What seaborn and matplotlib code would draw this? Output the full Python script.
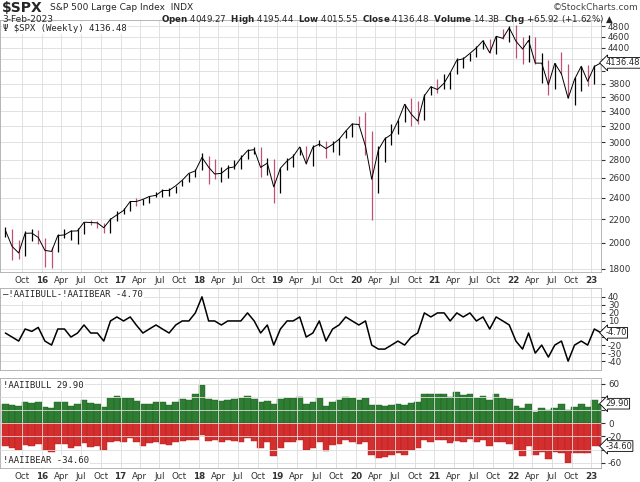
import numpy as np
import pandas as pd
import matplotlib
matplotlib.use("Agg")
import matplotlib.pyplot as plt
import matplotlib.dates as mdates
from matplotlib.ticker import FixedLocator, NullLocator, NullFormatter
import seaborn as sns

months = pd.date_range("2015-07-01", "2023-02-01", freq="MS") + pd.Timedelta(days=14)

spx_close = [2104, 1972, 1920, 2079, 2080, 2044,
    1940, 1932, 2060, 2065, 2097, 2099, 2174, 2171, 2168, 2126, 2199, 2239,
    2279, 2364, 2363, 2384, 2412, 2423, 2470, 2472, 2519, 2575, 2648, 2674,
    2824, 2714, 2641, 2648, 2705, 2718, 2816, 2902, 2914, 2712, 2760, 2507,
    2704, 2784, 2834, 2946, 2752, 2942, 2980, 2926, 2977, 3038, 3141, 3231,
    3226, 2954, 2585, 2912, 3044, 3100, 3271, 3500, 3363, 3270, 3622, 3756,
    3714, 3811, 3973, 4181, 4204, 4298, 4395, 4523, 4308, 4605, 4567, 4766,
    4516, 4374, 4530, 4132, 4132, 3785, 4130, 3955, 3586, 3872, 4080, 3840,
    4077, 4136]
spx_low = [2044, 1867, 1872, 1893, 2019, 1993,
    1812, 1810, 1931, 2039, 2025, 1992, 2075, 2147, 2120, 2083, 2084, 2187,
    2245, 2271, 2322, 2329, 2353, 2405, 2407, 2418, 2446, 2520, 2557, 2605,
    2683, 2533, 2585, 2553, 2594, 2691, 2699, 2803, 2868, 2604, 2631, 2346,
    2444, 2682, 2722, 2848, 2750, 2729, 2952, 2822, 2892, 2856, 3050, 3070,
    3214, 2855, 2192, 2447, 2767, 2966, 3101, 3260, 3209, 3233, 3280, 3633,
    3662, 3725, 3723, 3960, 4056, 4164, 4233, 4367, 4305, 4279, 4560, 4495,
    4222, 4115, 4157, 4124, 3810, 3637, 3721, 3954, 3584, 3491, 3699, 3764,
    3794, 4015]
spx_high = [2133, 2113, 2021, 2094, 2117, 2104,
    2039, 1963, 2073, 2112, 2104, 2121, 2178, 2194, 2188, 2169, 2215, 2278,
    2301, 2372, 2401, 2392, 2419, 2454, 2484, 2491, 2519, 2582, 2657, 2695,
    2873, 2836, 2801, 2718, 2742, 2791, 2848, 2917, 2941, 2940, 2816, 2801,
    2708, 2813, 2860, 2949, 2955, 2964, 3028, 3013, 3022, 3050, 3154, 3248,
    3337, 3394, 3137, 2955, 3068, 3233, 3280, 3510, 3588, 3550, 3646, 3760,
    3871, 3951, 3983, 4218, 4238, 4302, 4430, 4537, 4546, 4608, 4743, 4808,
    4819, 4595, 4637, 4594, 4307, 4177, 4141, 4325, 4120, 3906, 4081, 4101,
    4095, 4195]
aaii_bull = [30, 28, 26, 33, 31, 33,
    25, 23, 32, 32, 27, 30, 35, 31, 30, 25, 38, 42,
    38, 38, 34, 30, 30, 33, 32, 28, 33, 37, 36, 45,
    58, 37, 36, 34, 36, 37, 38, 42, 37, 32, 34, 30,
    37, 38, 38, 40, 30, 32, 38, 27, 33, 36, 40, 38,
    36, 38, 28, 28, 27, 28, 30, 28, 31, 33, 45, 44,
    45, 45, 40, 47, 43, 44, 39, 41, 35, 44, 39, 37,
    26, 24, 30, 18, 24, 20, 23, 30, 20, 25, 30, 25,
    35, 29.9]
aaii_bear = [35, 38, 41, 33, 34, 31,
    40, 43, 32, 32, 37, 35, 30, 36, 35, 40, 28, 27,
    28, 23, 29, 35, 30, 28, 32, 33, 28, 27, 26, 25,
    18, 27, 26, 29, 26, 27, 28, 22, 27, 37, 29, 50,
    37, 28, 28, 25, 40, 37, 28, 42, 33, 31, 25, 28,
    31, 28, 48, 53, 52, 48, 45, 48, 41, 38, 25, 29,
    25, 25, 30, 27, 28, 24, 29, 26, 35, 29, 29, 32,
    41, 49, 35, 48, 44, 55, 43, 45, 60, 45, 45, 45,
    35, 34.6]
p1_ticks = [1800, 2000, 2200, 2400, 2600, 2800, 3000, 3200, 3400, 3600, 3800, 4000, 4200, 4400, 4600, 4800]
p2_ticks = [-40, -30, -20, -10, 0, 10, 20, 30, 40]
p3_ticks = [-60, -40, -20, 0, 20, 40, 60]

df = pd.DataFrame({"date": months, "close": spx_close, "low": spx_low, "high": spx_high,
                   "bull": aaii_bull, "bear": aaii_bear})
df["spread"] = df["bull"] - df["bear"]

sns.set_style("white")
fig = plt.figure(figsize=(6.4, 4.82), dpi=100)
W, H = 640, 482
def axpos(top, bot):
    return [0.0, 1 - bot / H, 601 / W, (bot - top) / H]
ax1 = fig.add_axes(axpos(20, 272))
ax2 = fig.add_axes(axpos(288, 370))
ax3 = fig.add_axes(axpos(378, 468))

xmin, xmax = pd.Timestamp("2015-06-20"), pd.Timestamp("2023-02-15")
qticks = pd.date_range("2015-10-01", "2023-01-01", freq="QS")
grid_c = "#dcdcdc"
for ax in (ax1, ax2, ax3):
    ax.set_xlim(xmin, xmax)
    ax.xaxis.set_major_locator(FixedLocator(mdates.date2num(qticks)))
    ax.yaxis.tick_right()
    ax.tick_params(axis="y", labelsize=6.3, length=3, colors="#333333", pad=2)
    ax.tick_params(axis="x", length=0, labelsize=6.3, colors="#333333", pad=3)
    ax.grid(True, color=grid_c, linewidth=0.6)
    for s in ax.spines.values():
        s.set_color("#aaaaaa"); s.set_linewidth(0.6)

def qlabels():
    return [d.strftime("%y") if d.month == 1 else d.strftime("%b") for d in qticks]

def ylabels(ticks, hide):
    return ["" if v in hide else str(v) for v in ticks]

# Panel 1
up = df["close"].diff().fillna(1) >= 0
ax1.vlines(df["date"][up], df["low"][up], df["high"][up], color="black", lw=0.9)
ax1.vlines(df["date"][~up], df["low"][~up], df["high"][~up], color="#c0507a", lw=0.9)
sns.lineplot(data=df, x="date", y="close", ax=ax1, color="black", lw=0.7)
ax1.set_yscale("log")
ax1.set_ylim(1778, 4918)
ax1.yaxis.set_major_locator(FixedLocator(p1_ticks))
ax1.yaxis.set_minor_locator(NullLocator())
ax1.yaxis.set_minor_formatter(NullFormatter())
ax1.set_yticklabels(ylabels(p1_ticks, {4000, 4200}))
ax1.set_xticklabels(qlabels())
for lab, d in zip(ax1.get_xticklabels(), qticks):
    if d.month == 1: lab.set_fontweight("bold")
ax1.set_xlabel(""); ax1.set_ylabel("")

# Panel 2
sns.lineplot(data=df, x="date", y="spread", ax=ax2, color="black", lw=1.1)
ax2.set_ylim(-51, 51)
ax2.yaxis.set_major_locator(FixedLocator(p2_ticks))
ax2.set_yticklabels(ylabels(p2_ticks, {0, -10}))
ax2.set_xticklabels([])
ax2.set_xlabel(""); ax2.set_ylabel("")

# Panel 3
ax3.bar(df["date"], df["bull"], width=31, color="#2e7d32", edgecolor="#1b5e20", linewidth=0.3)
ax3.bar(df["date"], -df["bear"], width=31, color="#d32f2f", edgecolor="#b71c1c", linewidth=0.3)
ax3.set_ylim(-68, 69)
ax3.yaxis.set_major_locator(FixedLocator(p3_ticks))
ax3.set_yticklabels(ylabels(p3_ticks, {40, 20, -40}))
ax3.set_xticklabels(qlabels())
for lab, d in zip(ax3.get_xticklabels(), qticks):
    if d.month == 1: lab.set_fontweight("bold")
ax3.set_axisbelow(False)

# Right tags
def tag(ax, y, text):
    ax.annotate(text, xy=(1.0, y), xycoords=("axes fraction", "data"), xytext=(3, 0),
                textcoords="offset points", fontsize=6, va="center", ha="left",
                bbox=dict(boxstyle="larrow,pad=0.1", fc="white", ec="black", lw=0.6))
tag(ax1, 4136.48, "4136.48")
tag(ax2, -4.70, "-4.70")
tag(ax3, 29.90, "29.90")
tag(ax3, -34.60, "-34.60")

# Panel labels
box = dict(fc="white", ec="none", pad=1)
ax1.text(0.005, 0.985, "\u03a8 $SPX (Weekly) 4136.48", transform=ax1.transAxes, fontsize=6.5,
         family="DejaVu Sans Mono", va="top", bbox=box)
ax2.text(0.005, 0.97, "\u2014!AAIIBULL-!AAIIBEAR -4.70", transform=ax2.transAxes, fontsize=6.5,
         family="DejaVu Sans Mono", va="top", bbox=box)
ax3.text(0.005, 0.97, "!AAIIBULL 29.90", transform=ax3.transAxes, fontsize=6.5,
         family="DejaVu Sans Mono", va="top", bbox=box)
ax3.text(0.005, 0.03, "!AAIIBEAR -34.60", transform=ax3.transAxes, fontsize=6.5,
         family="DejaVu Sans Mono", va="bottom", bbox=box)

# Header
fig.text(0.003, 1 - 8 / H, "$SPX", fontsize=10, fontweight="bold", va="center")
fig.text(0.078, 1 - 8 / H, "S&P 500 Large Cap Index  INDX", fontsize=6.5, va="center")
fig.text(0.003, 1 - 19 / H, "3-Feb-2023", fontsize=6.5, va="center")
fig.text(0.997, 1 - 8 / H, "\u00a9StockCharts.com", fontsize=6.5, va="center", ha="right", color="#444444")
fig.text(0.96, 1 - 19 / H,
         r"$\bf{Open}$ 4049.27  $\bf{High}$ 4195.44  $\bf{Low}$ 4015.55  $\bf{Close}$ 4136.48  $\bf{Volume}$ 14.3B  $\bf{Chg}$ +65.92 (+1.62%) " + "\u25b2",
         fontsize=6.3, va="center", ha="right")

fig.savefig("out.png", dpi=100)
